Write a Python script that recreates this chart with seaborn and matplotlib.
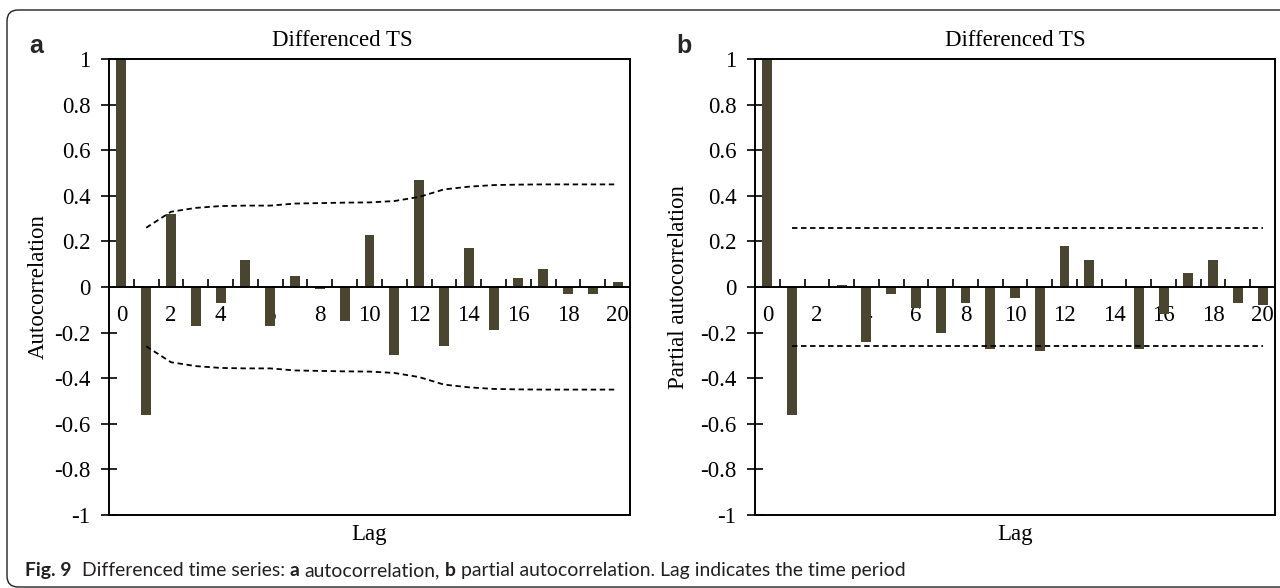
import numpy as np
import matplotlib
matplotlib.use("Agg")
import matplotlib.pyplot as plt
from matplotlib.patches import FancyBboxPatch
from matplotlib.transforms import IdentityTransform
import seaborn as sns

# ---------------- data ----------------
lags = list(range(0, 21))
acf_values = [1.0, -0.56, 0.32, -0.17, -0.07, 0.12, -0.17, 0.05, -0.01, -0.15,
              0.23, -0.30, 0.47, -0.26, 0.17, -0.19, 0.04, 0.08, -0.03, -0.03, 0.02]
acf_upper = [0.26, 0.33, 0.347, 0.355, 0.357, 0.357, 0.366, 0.368, 0.37, 0.371,
             0.377, 0.395, 0.428, 0.44, 0.447, 0.449, 0.45, 0.45, 0.45, 0.45]
acf_lower = [-0.26, -0.33, -0.347, -0.355, -0.357, -0.357, -0.366, -0.368, -0.37, -0.371,
             -0.377, -0.395, -0.428, -0.44, -0.447, -0.449, -0.45, -0.45, -0.45, -0.45]
pacf_values = [1.0, -0.56, 0.0, 0.01, -0.24, -0.03, -0.09, -0.20, -0.07, -0.27,
               -0.05, -0.28, 0.18, 0.12, 0.0, -0.27, -0.12, 0.06, 0.12, -0.07, -0.08]
pacf_upper = [0.26] * 20
pacf_lower = [-0.26] * 20
band_lags = lags[1:]
xtick_labels = ["0", "2", "4", "6", "8", "10", "12", "14", "16", "18", "20"]
ytick_values = [1, 0.8, 0.6, 0.4, 0.2, 0, -0.2, -0.4, -0.6, -0.8, -1]
ytick_labels = ["1", "0.8", "0.6", "0.4", "0.2", "0", "-0.2", "-0.4", "-0.6", "-0.8", "-1"]

BAR = "#4a4530"
SERIF = ["Liberation Serif", "DejaVu Serif"]

sns.set_style("white")
plt.rcParams["font.family"] = SERIF

W, H = 1280, 588
fig = plt.figure(figsize=(W / 100, H / 100), dpi=100)
fig.patch.set_facecolor("white")

ax1 = fig.add_axes([109 / W, 73 / H, 521 / W, 456 / H])
ax2 = fig.add_axes([755 / W, 73 / H, 520 / W, 456 / H])


def draw_panel(ax, vals, up, lo, ylabel, ylabel_x, title_x):
    sns.barplot(x=lags, y=vals, color=BAR, saturation=1, width=0.4, ax=ax,
                zorder=2, linewidth=0)
    sns.lineplot(x=band_lags, y=up, ax=ax, color="black",
                 lw=1.3, linestyle=(0, (3, 2)), zorder=3)
    sns.lineplot(x=band_lags, y=lo, ax=ax, color="black",
                 lw=1.3, linestyle=(0, (3, 2)), zorder=3)
    ax.set_xlim(-0.5, 20.5)
    ax.set_ylim(-1, 1)
    ax.set_xlabel("")
    ax.set_ylabel("")
    for s in ax.spines.values():
        s.set_visible(True)
        s.set_color("black")
        s.set_linewidth(1.4)
    ax.spines["bottom"].set_position(("data", 0))
    ax.axhline(-1, color="black", lw=1.4, clip_on=False, zorder=2.6)
    # x ticks (between categories) and labels (even lags)
    ax.set_xticks(np.arange(0.5, 20, 1))
    ax.set_xticklabels([])
    ax.set_xticks(np.arange(0, 21, 2), minor=True)
    ax.set_xticklabels(xtick_labels, minor=True)
    ax.tick_params(axis="x", which="major", direction="in", length=5.5,
                   width=1.2, color="black", labelbottom=False, bottom=True)
    ax.tick_params(axis="x", which="minor", length=0, pad=13, labelsize=16.5,
                   labelcolor="black", bottom=True)
    ax.set_yticks(ytick_values)
    ax.set_yticklabels(ytick_labels)
    ax.tick_params(axis="y", direction="inout", length=11.5, width=1.2,
                   color="black", pad=7.5, labelsize=16.5, labelcolor="black",
                   left=True, right=False)
    ax.text(title_x, 1.0 + 13 / 456, "Differenced TS", transform=ax.transAxes,
            ha="center", va="baseline", fontsize=16.5, color="black")
    ax.text(0.5, -(540 - 515) / 456, "Lag", transform=ax.transAxes,
            ha="center", va="baseline", fontsize=16.5, color="black")
    ax.text(ylabel_x, 0.5, ylabel, transform=ax.transAxes, rotation=90,
            ha="center", va="center", fontsize=16.5, color="black")


draw_panel(ax1, acf_values, acf_upper, acf_lower, "Autocorrelation",
           (38 - 109) / 521, (342 - 109) / 521)
draw_panel(ax2, pacf_values, pacf_upper, pacf_lower, "Partial autocorrelation",
           (678 - 755) / 520, 0.5)

# panel letters
fig.text(29 / W, 1 - 53 / H, "a", fontsize=18, fontweight="bold",
         family=["Liberation Sans", "DejaVu Sans"], ha="left", va="baseline")
fig.text(676 / W, 1 - 53 / H, "b", fontsize=18, fontweight="bold",
         family=["Liberation Sans", "DejaVu Sans"], ha="left", va="baseline")

# frame
frame = FancyBboxPatch((7, 1), 1400, H - 10 - 1,
                       boxstyle="round,pad=0,rounding_size=11",
                       transform=IdentityTransform(), fill=False,
                       ec="#231f20", lw=1.0)
fig.add_artist(frame)

# caption built from pieces
CAP_FONT = ["Lato", "DejaVu Sans"]
CAP_COLOR = "#231f20"
pieces = [("Fig. 9", "bold", 2), ("Differenced time series:", "normal", 1),
          ("a", "bold", 1), ("autocorrelation,", "normal", 1),
          ("b", "bold", 1), ("partial autocorrelation. Lag indicates the time period", "normal", 0)]
renderer = fig.canvas.get_renderer()


def measure(size):
    widths = []
    for txt, wt, _ in pieces:
        t = fig.text(0, 0, txt, fontsize=size, fontweight=wt, family=CAP_FONT)
        widths.append(t.get_window_extent(renderer).width)
        t.remove()
    t1 = fig.text(0, 0, "x x", fontsize=size, family=CAP_FONT)
    t2 = fig.text(0, 0, "xx", fontsize=size, family=CAP_FONT)
    sp = t1.get_window_extent(renderer).width - t2.get_window_extent(renderer).width
    t1.remove(); t2.remove()
    total = sum(widths) + sp * sum(p[2] for p in pieces)
    return widths, sp, total


base = 12.0
_, _, tot = measure(base)
size = base * (903 - 25) / tot
widths, sp, tot = measure(size)
x = 25.0
for (txt, wt, nsp), w in zip(pieces, widths):
    fig.text(x / W, 1 - 576 / H, txt, fontsize=size, fontweight=wt,
             family=CAP_FONT, color=CAP_COLOR, ha="left", va="baseline")
    x += w + sp * nsp

fig.savefig("out.png", dpi=100, facecolor="white")
